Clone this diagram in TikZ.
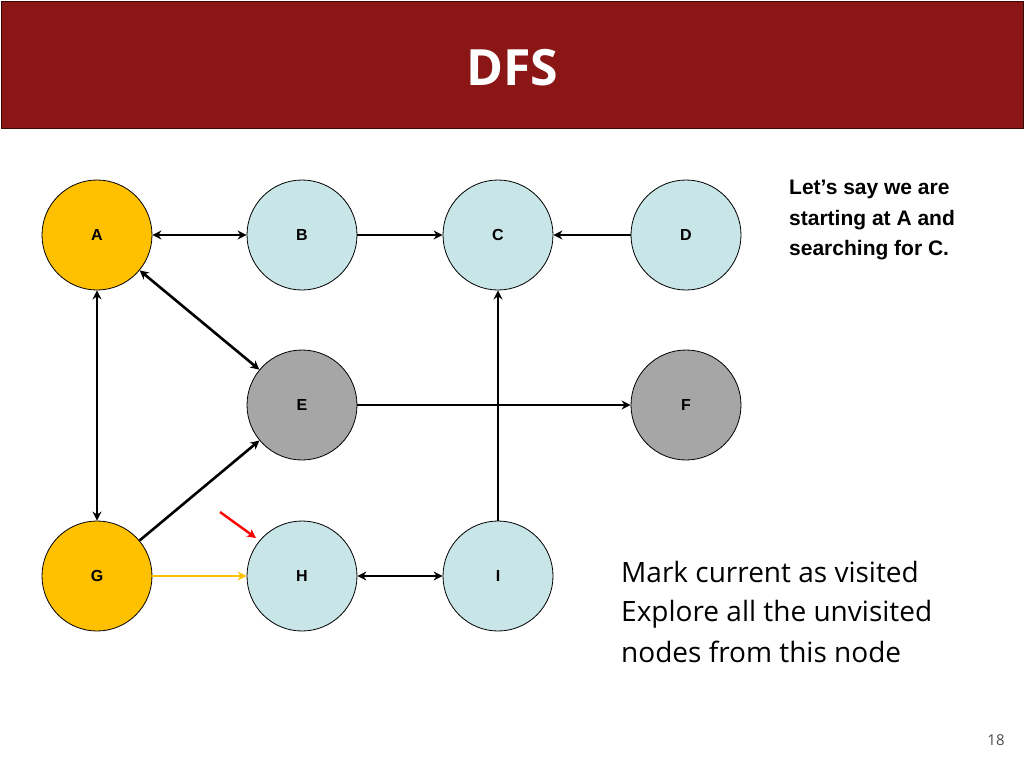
\documentclass[tikz,border=0pt]{standalone}
\usepackage{fontspec}
\setmainfont{Open Sans}
\newfontfamily\arialf{Liberation Sans}
\usetikzlibrary{arrows.meta}
\definecolor{hdr}{HTML}{8B1616}
\definecolor{gold}{HTML}{FFC000}
\definecolor{cyanl}{HTML}{C8E5E8}
\definecolor{grayn}{HTML}{A6A6A6}
\begin{document}
\begin{tikzpicture}[x=1pt,y=-1pt,
  nd/.style={circle,draw=black,line width=0.8pt,minimum size=110pt,inner sep=0pt,font=\arialf\bfseries\fontsize{16}{18}\selectfont},
  ed/.style={line width=2.6pt,-{Stealth[length=9pt,width=9pt]}},
  bd/.style={line width=2.6pt,{Stealth[length=9pt,width=9pt]}-{Stealth[length=9pt,width=9pt]}}]
\useasboundingbox (0,0) rectangle (1024,768);
\fill[white] (0,0) rectangle (1024,768);
\node[fill=hdr,draw=black!60!hdr,minimum width=1022pt,minimum height=127pt,anchor=north west,inner sep=0pt] (hd) at (1,1) {};
\node[text=white,font=\bfseries\fontsize{50}{56}\selectfont] (t) at (512,68) {DFS};
\node[nd,fill=gold] (A) at (97,235) {A};
\node[nd,fill=cyanl] (B) at (302,235) {B};
\node[nd,fill=cyanl] (C) at (498,235) {C};
\node[nd,fill=cyanl] (D) at (686,235) {D};
\node[nd,fill=grayn] (E) at (302,405) {E};
\node[nd,fill=grayn] (F) at (686,405) {F};
\node[nd,fill=gold] (G) at (97,576) {G};
\node[nd,fill=cyanl] (H) at (302,576) {H};
\node[nd,fill=cyanl] (I) at (498,576) {I};
\draw[bd] (A) -- (B);
\draw[ed] (B) -- (C);
\draw[ed] (D) -- (C);
\draw[bd] (A) -- (E);
\draw[bd] (A) -- (G);
\draw[ed] (G) -- (E);
\draw[ed] (E) -- (F);
\draw[ed] (I) -- (C);
\draw[bd] (H) -- (I);
\draw[ed,draw=gold,line width=2.2pt] (G) -- (H);
\coordinate (r1) at (220,512);
\coordinate (r2) at (256,538);
\draw[ed,draw=red,line width=2.4pt] (r1) -- (r2);
\node[anchor=north west,align=left,font=\arialf\bfseries\fontsize{21}{30.5}\selectfont,inner sep=0pt] (txt) at (789,180) {Let’s say we are\\starting at A and\\searching for C.};
\node[anchor=west,font=\fontsize{28}{34}\selectfont,inner sep=0pt] (m1) at (621,572) {Mark current as visited};
\node[anchor=north west,align=left,font=\fontsize{28}{41}\selectfont,inner sep=0pt] (m2) at (621,600) {Explore all the unvisited\\nodes from this node};
\node[text=black!70,font=\fontsize{15}{18}\selectfont] (pg) at (996,740) {18};
\end{tikzpicture}
\end{document}
